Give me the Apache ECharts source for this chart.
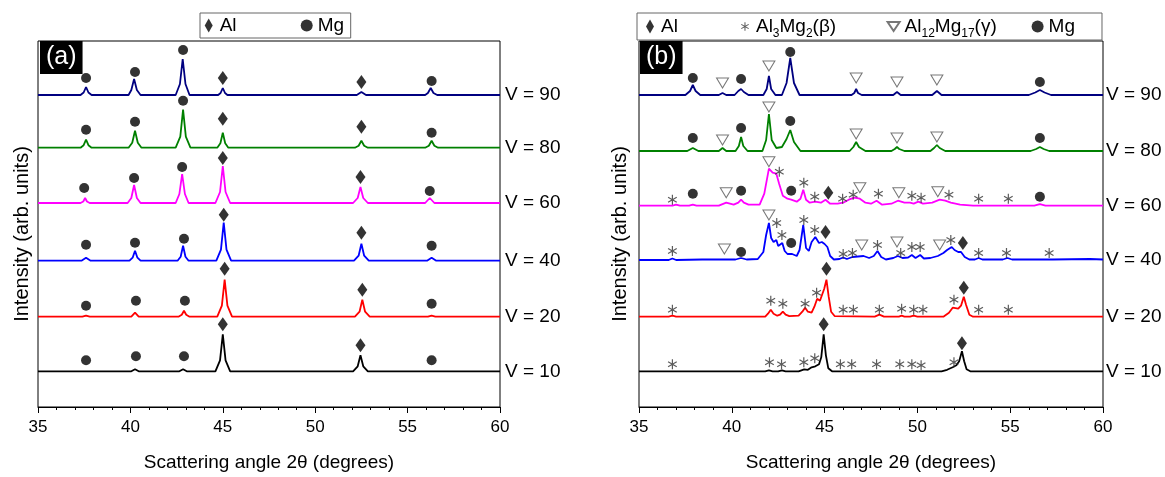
<!DOCTYPE html>
<html>
<head>
<meta charset="utf-8">
<script src="https://cdn.jsdelivr.net/npm/echarts@6/dist/echarts.min.js"></script>
<style>
  html, body { margin: 0; padding: 0; background: #fff; }
  #chart { width: 1165px; height: 477px; }
</style>
</head>
<body>
<div id="chart"></div>
<script>
// traces: [2theta, height above own baseline]
const vLabels = ['V = 10', 'V = 20', 'V = 40', 'V = 60', 'V = 80', 'V = 90']
const traceColors = ['#000000', '#ff0000', '#0000ff', '#ff00ff', '#008000', '#000080']
const aBase = [35.7, 90.3, 146.3, 204, 259.3, 312]
const bBase = [35.7, 90.3, 147, 201.3, 256, 312]

const a10 = [[35,0],[40.05,0],[40.25,2],[40.45,0],[42.65,0],[42.85,2],[43.05,0],[44.6,0],[44.85,11],[45.0,37],[45.15,11],[45.4,0],[52.05,0],[52.3,5],[52.45,16],[52.6,5],[52.85,0],[60,0]]
const a20 = [[35,0],[37.4,0],[37.6,1],[37.8,0],[40.05,0],[40.25,4],[40.45,0],[42.6,0],[42.78,2],[42.9,6],[43.02,2],[43.2,0],[44.7,0],[44.95,11],[45.1,37],[45.25,11],[45.5,0],[52.15,0],[52.4,5],[52.55,17],[52.7,5],[52.95,0],[56.1,0],[56.3,1],[56.5,0],[60,0]]
const a40 = [[35,0],[37.35,0],[37.6,3],[37.85,0],[39.95,0],[40.12,3],[40.25,10],[40.38,3],[40.55,0],[42.55,0],[42.72,4],[42.85,15],[42.98,4],[43.15,0],[44.65,0],[44.9,11],[45.05,38],[45.2,11],[45.45,0],[52.1,0],[52.35,5],[52.5,17],[52.65,5],[52.9,0],[56.05,0],[56.3,3],[56.55,0],[60,0]]
const a60 = [[35,0],[37.3,0],[37.45,1.5],[37.55,5],[37.65,1.5],[37.8,0],[39.85,0],[40.05,5],[40.2,18],[40.35,5],[40.55,0],[42.45,0],[42.65,9],[42.8,29],[42.95,9],[43.15,0],[44.6,0],[44.85,11],[45.0,37],[45.15,11],[45.4,0],[52.05,0],[52.3,5],[52.45,16],[52.6,5],[52.85,0],[55.95,0],[56.2,5],[56.45,0],[60,0]]
const a80 = [[35,0],[37.3,0],[37.47,2.5],[37.6,8],[37.73,2.5],[37.9,0],[39.9,0],[40.1,5],[40.25,17],[40.4,5],[40.6,0],[42.45,0],[42.7,11],[42.85,38],[43.0,11],[43.25,0],[44.7,0],[44.87,4.5],[45.0,15],[45.13,4.5],[45.3,0],[52.15,0],[52.35,2],[52.5,7],[52.65,2],[52.85,0],[55.95,0],[56.15,2],[56.3,7],[56.45,2],[56.65,0],[60,0]]
const a90 = [[35,0],[37.3,0],[37.47,2.5],[37.6,8],[37.73,2.5],[37.9,0],[39.9,0],[40.05,5],[40.2,16],[40.35,5],[40.55,0],[42.45,0],[42.68,11],[42.83,36],[42.98,11],[43.2,0],[44.75,0],[44.88,2],[45.0,7],[45.12,2],[45.25,0],[52.25,0],[52.5,3],[52.75,0],[55.95,0],[56.1,2],[56.25,7],[56.4,2],[56.6,0],[60,0]]

const b10 = [[35,0],[41.8,0],[42.0,1],[42.2,0],[42.5,0],[42.7,1],[42.9,0],[43.6,0],[43.9,2],[44.1,1.5],[44.3,4],[44.5,5],[44.7,7],[44.82,14],[44.95,37],[45.07,16],[45.2,3],[45.4,0],[51.3,0],[51.6,1.5],[51.9,4],[52.1,6],[52.25,10],[52.4,20],[52.52,10],[52.65,2],[52.85,0],[60,0]]
const b20 = [[35,0],[36.6,0],[36.8,1],[37.0,0],[41.8,0],[41.95,3],[42.1,7],[42.25,3],[42.45,1],[42.6,2],[42.75,5],[42.9,2],[43.1,0.5],[43.6,1],[43.8,5],[43.95,9],[44.1,5],[44.3,4],[44.45,10],[44.6,18],[44.75,16],[44.85,15],[44.98,28],[45.1,37],[45.22,20],[45.35,5],[45.55,0.5],[47.7,0],[47.95,2],[48.2,0],[49.0,0],[49.15,1],[49.3,0],[49.6,0],[49.8,1],[50.0,0],[51.4,0],[51.7,4],[51.9,9],[52.0,10],[52.2,8],[52.35,11],[52.5,20],[52.62,12],[52.8,2],[53.0,0],[60,0]]
const b40 = [[35,0],[36.6,0],[36.8,1.5],[37.0,0],[38.4,0.5],[39.6,0.5],[40.2,0.5],[40.5,2],[40.8,0.5],[41.4,1],[41.7,8],[41.85,25],[42.0,37],[42.12,22],[42.25,18],[42.4,20],[42.5,14],[42.6,15],[42.72,17],[42.85,9],[43.0,6],[43.25,6],[43.5,4],[43.65,10],[43.85,35],[44.0,12],[44.15,9],[44.3,18],[44.5,23],[44.7,17],[44.85,18],[45.0,16],[45.15,13],[45.3,4],[45.5,0.5],[45.8,1],[46.0,2.5],[46.2,1],[46.5,3],[46.8,3.5],[47.1,4],[47.4,2],[47.65,4],[47.85,9],[48.05,3],[48.3,0.5],[48.7,2],[48.95,4],[49.2,2],[49.5,2.5],[49.7,5],[49.9,2],[50.15,5],[50.35,1.5],[50.7,2],[51.1,4],[51.4,7],[51.6,10],[51.85,13],[52.0,10],[52.2,8],[52.35,8],[52.55,3],[52.8,0.5],[53.1,0.5],[53.3,2],[53.5,0.5],[54.6,0.5],[54.85,2],[55.1,0.5],[57.0,0.5],[57.1,1],[57.3,0.5],[59.3,1],[60,0.5]]
const b60 = [[35,0],[36.8,0],[37.0,1],[37.2,0],[37.7,0],[37.9,1],[38.1,0],[39.3,0],[39.7,3],[40.1,1],[40.35,3],[40.5,6],[40.65,3],[40.9,1],[41.5,1],[41.75,12],[42.0,37],[42.2,33],[42.4,32],[42.55,22],[42.75,10],[43.0,7],[43.2,6],[43.5,4],[43.7,7],[43.85,16],[44.0,6],[44.2,3],[44.5,4],[44.8,3],[45.05,6],[45.3,2],[45.7,2],[46.0,3],[46.3,6],[46.6,8],[46.9,7],[47.2,3],[47.5,2],[47.8,5],[48.1,1],[48.6,2],[48.95,5],[49.3,3],[49.6,3],[49.8,2],[50.05,4],[50.3,2],[50.8,3],[51.2,6],[51.5,5],[51.8,3],[52.3,1],[53.0,0],[56.3,0],[56.6,1.5],[56.9,0],[60,0]]
const b80 = [[35,0],[37.6,0],[37.9,3],[38.2,0],[39.3,0],[39.5,3],[39.7,0],[40.2,0],[40.38,5],[40.5,14],[40.62,5],[40.85,0],[41.65,0],[41.85,11],[42.0,37],[42.15,11],[42.4,3],[42.7,4],[42.95,12],[43.15,21],[43.35,9],[43.7,0],[46.35,0],[46.55,4],[46.7,9],[46.85,4],[47.2,0],[48.6,0],[48.78,2],[48.9,4],[49.02,2],[49.3,0],[50.7,0],[50.9,3],[51.05,6],[51.2,3],[51.5,0],[56.1,0],[56.4,2],[56.6,4],[56.8,2],[57.1,0],[60,0]]
const b90 = [[35,0],[37.5,0],[37.75,4],[37.9,10],[38.05,4],[38.3,0],[39.3,0],[39.5,2],[39.7,0],[40.15,0],[40.35,4],[40.5,6],[40.65,3],[40.9,0],[41.7,0],[41.88,6],[42.0,19],[42.12,6],[42.35,0],[42.7,0],[42.95,12],[43.15,37],[43.35,12],[43.65,0],[46.45,0],[46.6,2],[46.7,6],[46.8,2],[47.0,0],[48.7,0],[48.9,3],[49.1,0],[50.8,0],[51.05,4],[51.3,0],[56.0,0],[56.35,2.5],[56.6,5],[56.85,2.5],[57.2,0],[60,0]]

// phase markers: [2theta, trace index (0 = V10 ... 5 = V90), height above baseline]
const aMg = [[37.6,5,17],[40.25,5,23],[42.85,5,45],[56.3,5,14],[37.6,4,18],[40.25,4,26],[42.85,4,47],[56.3,4,15],
  [37.5,3,15],[40.2,3,25],[42.8,3,36],[56.2,3,12],[37.6,2,16],[40.25,2,18],[42.9,2,22],[56.3,2,15],
  [37.6,1,11],[40.3,1,16],[42.95,1,16],[56.3,1,13],[37.6,0,11],[40.3,0,15],[42.9,0,15],[56.3,0,11]]
const aAl = [[45.0,5,17],[52.5,5,13],[45.0,4,29],[52.5,4,21],[45.0,3,45],[52.45,3,26],[45.05,2,46],[52.5,2,28],
  [45.1,1,48],[52.55,1,27],[45.0,0,47],[52.45,0,26]]
const bMg = [[37.9,5,17],[40.5,5,16],[43.15,5,43],[56.6,5,13],[37.9,4,13],[40.5,4,23],[43.15,4,30],[56.6,4,13],
  [37.9,3,12],[40.5,3,15],[43.2,3,15],[56.6,3,9],[40.5,2,8],[43.2,2,17]]
const bGamma = [[39.5,5,12],[42.0,5,29],[46.7,5,17],[48.9,5,13],[51.05,5,15],[39.5,4,11],[42.0,4,44],[46.7,4,17],[48.9,4,13],[51.05,4,14],
  [39.7,3,13],[42.0,3,44],[46.9,3,18],[49.0,3,13],[51.1,3,14],[39.6,2,11],[42.0,2,45],[47.0,2,15],[48.9,2,18],[51.2,2,15]]
const bAl = [[45.2,3,13],[45.05,2,28],[52.45,2,17],[45.1,1,48],[52.5,1,29],[44.95,0,47],[52.4,0,28]]
const bBeta = [[36.8,3,6],[42.56,3,34],[43.88,3,23],[44.47,3,9],[45.97,3,7],[46.54,3,11],[47.9,3,12],[49.7,3,10],[50.2,3,8],[51.7,3,11],[53.3,3,7],[54.9,3,7],
  [36.8,2,9],[42.42,2,37],[42.7,2,25],[43.88,2,40],[44.47,2,30],[46.0,2,6],[46.5,2,7],[47.85,2,15],[49.1,2,7],[49.7,2,13],[50.15,2,13],[51.8,2,20],[53.3,2,7],[54.8,2,7],[57.1,2,7],
  [36.8,1,7],[42.1,1,16],[42.75,1,13],[43.95,1,13],[44.57,1,24],[46.0,1,7],[46.55,1,7],[47.95,1,7],[49.15,1,8],[49.8,1,7],[50.3,1,7],[51.97,1,17],[53.3,1,7],[54.9,1,7],
  [36.8,0,7],[42.03,0,9],[42.68,0,7],[43.88,0,9],[44.47,0,13],[45.85,0,7],[46.46,0,7],[47.8,0,7],[49.05,0,7],[49.7,0,7],[50.2,0,6],[51.97,0,9]]

const FONT = '"Liberation Sans", Arial, sans-serif'
const DIAMOND = 'path://M0,-7L4,0L0,7L-4,0Z'
const TRIANGLE = 'path://M-6,0L6,0L0,9Z'
const ASTERISK = 'path://M-0.6,-5L0.6,-5L0.6,5L-0.6,5Z M4.03,-3.02L4.63,-1.98L-4.03,3.02L-4.63,1.98Z M-4.63,-1.98L-4.03,-3.02L4.63,1.98L4.03,3.02Z'
// same asterisk, with a wider invisible extent so the legend draws it smaller
const ASTERISK_LEG = 'path://M-7,-8.2 M7,8.2 M-0.6,-5L0.6,-5L0.6,5L-0.6,5Z M4.03,-3.02L4.63,-1.98L-4.03,3.02L-4.63,1.98Z M-4.63,-1.98L-4.03,-3.02L4.63,1.98L4.03,3.02Z'

const traceSeries = (grid, traces, bases) =>
  traces.map((tr, i) => ({
    type: 'line',
    xAxisIndex: grid,
    yAxisIndex: grid,
    data: tr.map((p) => [p[0], p[1] + bases[i]]),
    symbol: 'none',
    silent: true,
    z: 2,
    lineStyle: { color: traceColors[i], width: 1.8 },
    itemStyle: { color: traceColors[i] },
    endLabel: { show: true, formatter: vLabels[i], color: '#000', fontSize: 19, fontFamily: FONT, distance: grid ? 3 : 5 },
  }))

const markerSeries = (grid, name, pts, bases, symbol, size, keep, style) => ({
  type: 'scatter',
  name,
  xAxisIndex: grid,
  yAxisIndex: grid,
  data: pts.map((p) => [p[0], bases[p[1]] + p[2]]),
  symbol,
  symbolSize: size,
  symbolKeepAspect: keep,
  silent: true,
  z: 5,
  itemStyle: style,
})

const xAxisBase = (grid) => ({
  type: 'value',
  gridIndex: grid,
  min: 35,
  max: 60,
  interval: 5,
  name: 'Scattering angle 2θ (degrees)',
  nameLocation: 'middle',
  nameGap: 46,
  nameTextStyle: { fontSize: 19, fontFamily: FONT, color: '#000' },
  axisLine: { lineStyle: { color: '#000', width: 1 } },
  axisTick: { inside: false, length: 6, lineStyle: { color: '#000' } },
  minorTick: { show: true, splitNumber: 5, length: 3, lineStyle: { color: '#000' } },
  axisLabel: { fontSize: 17, fontFamily: FONT, color: '#000', margin: 12 },
  splitLine: { show: false },
})

const yAxisBase = (grid, gap) => ({
  type: 'value',
  gridIndex: grid,
  min: 0,
  max: 366,
  name: 'Intensity (arb. units)',
  nameLocation: 'middle',
  nameGap: gap,
  nameTextStyle: { fontSize: 20, fontFamily: FONT, color: '#000', padding: [0, 20, 0, 0] },
  axisLine: { show: false },
  axisTick: { show: false },
  axisLabel: { show: false },
  splitLine: { show: false },
})

const txt = { fontSize: 19, fontFamily: FONT, color: '#000', lineHeight: 19 }
const richLegend = {
  n: txt,
  wa: { ...txt, width: 71 },
  wb: { ...txt, width: 68 },
  bt: { ...txt, width: 64 },
  gt: { ...txt, width: 47 },
  s: { fontSize: 12, fontFamily: FONT, color: '#000', lineHeight: 12, padding: [14, 0, 0, 0] },
}

const legendA = (name) => (name === 'Al' ? '{wa|Al}' : '{n|' + name + '}')
const legendB = (name) => {
  if (name === 'Al') return '{wb|Al}'
  if (name === 'Al3Mg2') return '{n|Al}{s|3}{n|Mg}{s|2}{bt|(β)}'
  if (name === 'Al12Mg17') return '{n|Al}{s|12}{n|Mg}{s|17}{gt|(γ)}'
  return '{n|' + name + '}'
}

const chart = echarts.init(document.getElementById('chart'))

chart.setOption({
  animation: false,
  backgroundColor: '#fff',
  title: [
    { text: '(a)', left: 40, top: 41, backgroundColor: '#000', padding: [4, 6, 4, 6],
      textStyle: { color: '#fff', fontSize: 25, fontWeight: 'normal', fontFamily: FONT } },
    { text: '(b)', left: 640, top: 41, backgroundColor: '#000', padding: [4, 6, 4, 6],
      textStyle: { color: '#fff', fontSize: 25, fontWeight: 'normal', fontFamily: FONT } },
  ],
  legend: [
    {
      left: 200, top: 13, orient: 'horizontal', selectedMode: false,
      itemWidth: 12, itemHeight: 14, itemGap: 10, padding: [3, 6.6, 3, 4.7],
      borderColor: '#666', borderWidth: 1,
      formatter: legendA,
      textStyle: { ...txt, rich: richLegend },
      data: [{ name: 'Al' }, { name: 'Mg' }],
    },
    {
      left: 637, top: 13, orient: 'horizontal', selectedMode: false,
      itemWidth: 12, itemHeight: 14, itemGap: 10, padding: [0.5, 27, 0.5, 9],
      borderColor: '#666', borderWidth: 1,
      formatter: legendB,
      textStyle: { ...txt, rich: richLegend },
      data: [{ name: 'Al' }, { name: 'Al3Mg2', icon: ASTERISK_LEG }, { name: 'Al12Mg17' }, { name: 'Mg' }],
    },
  ],
  grid: [
    { left: 38, top: 41, width: 462, height: 366, show: true, borderColor: '#000', borderWidth: 1 },
    { left: 639, top: 41, width: 464, height: 366, show: true, borderColor: '#000', borderWidth: 1 },
  ],
  xAxis: [xAxisBase(0), xAxisBase(1)],
  yAxis: [yAxisBase(0, 6), yAxisBase(1, 9)],
  series: [
    ...traceSeries(0, [a10, a20, a40, a60, a80, a90], aBase),
    ...traceSeries(1, [b10, b20, b40, b60, b80, b90], bBase),
    markerSeries(0, 'Al', aAl, aBase, DIAMOND, [10, 14], false, { color: '#000' }),
    markerSeries(0, 'Mg', aMg, aBase, 'circle', 10, false, { color: '#000' }),
    markerSeries(1, 'Al', bAl, bBase, DIAMOND, [10, 14], false, { color: '#000' }),
    markerSeries(1, 'Mg', bMg, bBase, 'circle', 10, false, { color: '#000' }),
    markerSeries(1, 'Al3Mg2', bBeta, bBase, ASTERISK, 10, true, { color: '#333' }),
    markerSeries(1, 'Al12Mg17', bGamma, bBase, TRIANGLE, [12, 10], false, { color: '#fff', borderColor: '#555', borderWidth: 1 }),
  ],
})

window.addEventListener('resize', () => chart.resize())
</script>
</body>
</html>
